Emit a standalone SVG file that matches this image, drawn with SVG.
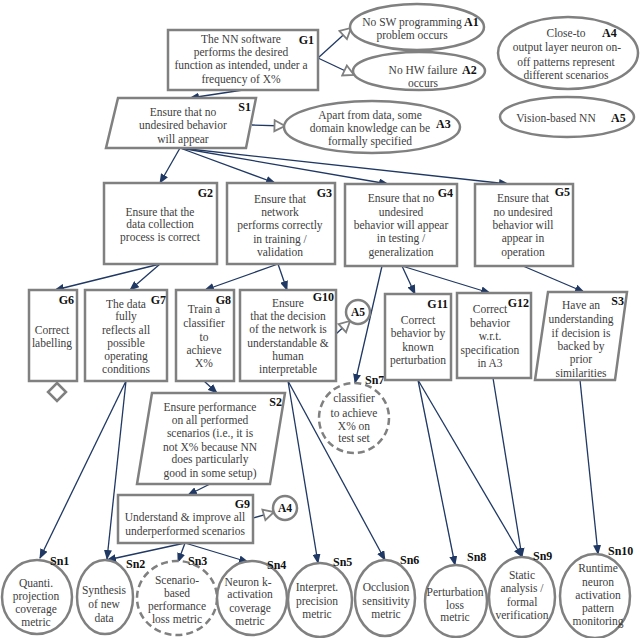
<svg xmlns="http://www.w3.org/2000/svg" width="640" height="638" viewBox="0 0 640 638">
<style>
.bx{fill:#fff;stroke:#808080;stroke-width:2.5}
.t{font-family:"Liberation Serif",serif;font-size:11.5px;fill:#404040;text-anchor:middle}
.lb{font-family:"Liberation Serif",serif;font-size:12px;font-weight:bold;fill:#111}
.lbe{font-family:"Liberation Serif",serif;font-size:12px;font-weight:bold;fill:#111;text-anchor:end}
.lbm{font-family:"Liberation Serif",serif;font-size:11.5px;font-weight:bold;fill:#111;text-anchor:middle}
.c{stroke:#1f3864;stroke-width:1.3;fill:none;marker-end:url(#ah)}
.h{stroke:#1f3864;stroke-width:1.3;fill:none;marker-end:url(#ho)}
.d{stroke-dasharray:7,4}
</style>
<defs>
<marker id="ah" markerWidth="10" markerHeight="8" refX="9" refY="4" orient="auto" markerUnits="userSpaceOnUse"><path d="M0,0 L10,4 L0,8 z" fill="#1f3864"/></marker>
<marker id="ho" markerWidth="14" markerHeight="14" refX="12" refY="7" orient="auto" markerUnits="userSpaceOnUse"><path d="M1.5,1.5 L12,7 L1.5,12.5 z" fill="#fff" stroke="#808080" stroke-width="1.8"/></marker>
</defs>

<g id="connectors">
<line class="c" x1="243" y1="90" x2="190" y2="98"/>
<line class="h" x1="318" y1="58" x2="351" y2="28"/>
<line class="h" x1="318" y1="58" x2="354" y2="75"/>
<line class="h" x1="252" y1="125" x2="285" y2="126"/>
<line class="c" x1="180" y1="148" x2="160" y2="183"/>
<line class="c" x1="180" y1="148" x2="275" y2="183"/>
<line class="c" x1="180" y1="148" x2="388" y2="184"/>
<line class="c" x1="180" y1="148" x2="508" y2="184"/>
<line class="c" x1="160" y1="264" x2="55" y2="290"/>
<line class="c" x1="160" y1="264" x2="130" y2="290"/>
<line class="c" x1="278" y1="264" x2="205" y2="290"/>
<line class="c" x1="278" y1="264" x2="287" y2="290"/>
<line class="c" x1="382" y1="266" x2="355" y2="383"/>
<line class="c" x1="402" y1="266" x2="415" y2="294"/>
<line class="c" x1="402" y1="266" x2="490" y2="293"/>
<line class="c" x1="523" y1="266" x2="584" y2="292"/>
<line class="h" x1="336" y1="334" x2="350" y2="321"/>
<line class="c" x1="204" y1="381" x2="217" y2="393"/>
<line class="c" x1="210" y1="484" x2="188" y2="495"/>
<line class="h" x1="253" y1="518" x2="274" y2="512"/>
<line class="c" x1="126" y1="381" x2="40" y2="558"/>
<line class="c" x1="126" y1="381" x2="107" y2="559"/>
<line class="c" x1="185" y1="543" x2="107" y2="560"/>
<line class="c" x1="185" y1="543" x2="178" y2="562"/>
<line class="c" x1="185" y1="543" x2="248" y2="562"/>
<line class="c" x1="288" y1="381" x2="318" y2="563"/>
<line class="c" x1="288" y1="381" x2="385" y2="560"/>
<line class="c" x1="418" y1="380" x2="455" y2="565"/>
<line class="c" x1="418" y1="380" x2="522" y2="557"/>
<line class="c" x1="493" y1="378" x2="522" y2="557"/>
<line class="c" x1="580" y1="380" x2="598" y2="554"/>
</g>

<g id="G1"><rect class="bx" x="168" y="30" width="150" height="60"/>
<text class="t" x="241" y="43">The NN software</text><text class="t" x="241" y="56">performs the desired</text><text class="t" x="241" y="69">function as intended, under a</text><text class="t" x="241" y="83">frequency of X%</text>
<text class="lbe" x="314" y="44">G1</text></g>

<g id="A1"><ellipse class="bx" cx="417" cy="27" rx="67" ry="23"/>
<text class="t" x="412" y="26">No SW programming</text><text class="t" x="412" y="39">problem occurs</text>
<text class="lb" x="464" y="26">A1</text></g>

<g id="A2"><ellipse class="bx" cx="419" cy="71" rx="66" ry="19"/>
<text class="t" x="423" y="74">No HW failure</text><text class="t" x="423" y="87">occurs</text>
<text class="lb" x="462" y="74">A2</text></g>

<g id="S1"><polygon class="bx" points="118,98 256,98 246,148 106,148"/>
<text class="t" x="183" y="116">Ensure that no</text><text class="t" x="183" y="129">undesired behavior</text><text class="t" x="183" y="143">will appear</text>
<text class="lbe" x="251" y="111">S1</text></g>

<g id="A3"><ellipse class="bx" cx="372" cy="127" rx="88" ry="26"/>
<text class="t" x="370" y="119">Apart from data, some</text><text class="t" x="370" y="132">domain knowledge can be</text><text class="t" x="370" y="145">formally specified</text>
<text class="lb" x="436" y="128">A3</text></g>

<g id="A4"><ellipse class="bx" cx="568" cy="53" rx="70" ry="36"/>
<text class="t" x="566" y="37">Close-to</text><text class="t" x="567" y="51">output layer neuron on-</text><text class="t" x="566" y="66">off patterns represent</text><text class="t" x="566" y="79">different scenarios</text>
<text class="lb" x="602" y="37">A4</text></g>

<g id="A5"><ellipse class="bx" cx="567" cy="117" rx="67" ry="20"/>
<text class="t" x="556" y="122">Vision-based NN</text>
<text class="lb" x="611" y="122">A5</text></g>

<g id="G2"><rect class="bx" x="104" y="183" width="113" height="81"/>
<text class="t" x="160" y="216">Ensure that the</text><text class="t" x="160" y="228">data collection</text><text class="t" x="160" y="241">process is correct</text>
<text class="lbe" x="213" y="197">G2</text></g>

<g id="G3"><rect class="bx" x="227" y="183" width="108" height="81"/>
<text class="t" x="280" y="203">Ensure that</text><text class="t" x="280" y="216">network</text><text class="t" x="280" y="229">performs correctly</text><text class="t" x="280" y="243">in training /</text><text class="t" x="280" y="256">validation</text>
<text class="lbe" x="332" y="197">G3</text></g>

<g id="G4"><rect class="bx" x="345" y="184" width="112" height="82"/>
<text class="t" x="401" y="202">Ensure that no</text><text class="t" x="401" y="216">undesired</text><text class="t" x="401" y="229">behavior will appear</text><text class="t" x="401" y="242">in testing /</text><text class="t" x="401" y="256">generalization</text>
<text class="lbe" x="453" y="197">G4</text></g>

<g id="G5"><rect class="bx" x="475" y="184" width="98" height="82"/>
<text class="t" x="523" y="202">Ensure that</text><text class="t" x="523" y="216">no undesired</text><text class="t" x="523" y="229">behavior will</text><text class="t" x="523" y="242">appear in</text><text class="t" x="523" y="256">operation</text>
<text class="lbe" x="570" y="196">G5</text></g>

<g id="G6"><rect class="bx" x="29" y="290" width="48" height="91"/>
<text class="t" x="52" y="334">Correct</text><text class="t" x="52" y="347">labelling</text>
<text class="lbe" x="74" y="304">G6</text>
<polygon class="bx" points="57,383 66,392 57,401 48,392"/></g>

<g id="G7"><rect class="bx" x="85" y="290" width="82" height="91"/>
<text class="t" x="126" y="308">The data</text><text class="t" x="126" y="320">fully</text><text class="t" x="126" y="334">reflects all</text><text class="t" x="126" y="347">possible</text><text class="t" x="126" y="360">operating</text><text class="t" x="126" y="373">conditions</text>
<text class="lbe" x="166" y="304">G7</text></g>

<g id="G8"><rect class="bx" x="176" y="290" width="58" height="91"/>
<text class="t" x="204" y="313">Train a</text><text class="t" x="204" y="327">classifier</text><text class="t" x="204" y="341">to</text><text class="t" x="204" y="354">achieve</text><text class="t" x="204" y="367">X%</text>
<text class="lbe" x="231" y="304">G8</text></g>

<g id="G10"><rect class="bx" x="240" y="290" width="96" height="91"/>
<text class="t" x="288" y="307">Ensure</text><text class="t" x="288" y="320">that the decision</text><text class="t" x="288" y="333">of the network is</text><text class="t" x="288" y="347">understandable &amp;</text><text class="t" x="288" y="360">human</text><text class="t" x="288" y="373">interpretable</text>
<text class="lbe" x="334" y="301">G10</text></g>

<g id="A5ref"><circle class="bx" cx="358" cy="312" r="12"/><text class="lbm" x="358" y="316">A5</text></g>

<g id="Sn7"><circle class="bx d" cx="354" cy="418" r="35"/>
<text class="t" x="354" y="402">classifier</text><text class="t" x="354" y="417">to achieve</text><text class="t" x="354" y="430">X% on</text><text class="t" x="354" y="442">test set</text>
<text class="lb" x="365" y="384">Sn7</text></g>

<g id="G11"><rect class="bx" x="385" y="294" width="66" height="86"/>
<text class="t" x="418" y="324">Correct</text><text class="t" x="418" y="337">behavior by</text><text class="t" x="418" y="351">known</text><text class="t" x="418" y="364">perturbation</text>
<text class="lbe" x="448" y="308">G11</text></g>

<g id="G12"><rect class="bx" x="457" y="293" width="74" height="85"/>
<text class="t" x="490" y="313">Correct</text><text class="t" x="490" y="327">behavior</text><text class="t" x="490" y="340">w.r.t.</text><text class="t" x="490" y="354">specification</text><text class="t" x="490" y="367">in A3</text>
<text class="lbe" x="529" y="307">G12</text></g>

<g id="S3"><polygon class="bx" points="548,292 627,292 615,380 535,380"/>
<text class="t" x="581" y="309">Have an</text><text class="t" x="581" y="323">understanding</text><text class="t" x="581" y="337">if decision is</text><text class="t" x="581" y="350">backed by</text><text class="t" x="581" y="363">prior</text><text class="t" x="581" y="377">similarities</text>
<text class="lbe" x="624" y="305">S3</text></g>

<g id="S2"><polygon class="bx" points="152,393 285,393 270,484 137,484"/>
<text class="t" x="210" y="411">Ensure performance</text><text class="t" x="210" y="424">on all performed</text><text class="t" x="210" y="437">scenarios (i.e., it is</text><text class="t" x="210" y="451">not X% because NN</text><text class="t" x="210" y="463">does particularly</text><text class="t" x="210" y="477">good in some setup)</text>
<text class="lbe" x="282" y="406">S2</text></g>

<g id="G9"><rect class="bx" x="118" y="495" width="135" height="48"/>
<text class="t" x="185" y="521">Understand &amp; improve all</text><text class="t" x="185" y="535">underperformed scenarios</text>
<text class="lbe" x="250" y="508">G9</text></g>

<g id="A4ref"><circle class="bx" cx="285" cy="508" r="12"/><text class="lbm" x="285" y="512">A4</text></g>

<g id="Sn1"><ellipse class="bx" cx="37" cy="597" rx="35" ry="37"/>
<text class="t" x="36" y="587">Quanti.</text><text class="t" x="36" y="600">projection</text><text class="t" x="36" y="613">coverage</text><text class="t" x="36" y="626">metric</text>
<text class="lb" x="50" y="565">Sn1</text></g>

<g id="Sn2"><ellipse class="bx" cx="105" cy="597" rx="28" ry="37"/>
<text class="t" x="104" y="594">Synthesis</text><text class="t" x="104" y="608">of new</text><text class="t" x="104" y="622">data</text>
<text class="lb" x="126" y="568">Sn2</text></g>

<g id="Sn3"><ellipse class="bx d" cx="177" cy="598" rx="40" ry="37"/>
<text class="t" x="177" y="584">Scenario-</text><text class="t" x="177" y="597">based</text><text class="t" x="177" y="610">performance</text><text class="t" x="177" y="623">loss metric</text>
<text class="lb" x="188" y="565">Sn3</text></g>

<g id="Sn4"><ellipse class="bx" cx="252" cy="598" rx="35" ry="37"/>
<text class="t" x="248" y="586">Neuron k-</text><text class="t" x="250" y="598">activation</text><text class="t" x="250" y="612">coverage</text><text class="t" x="250" y="625">metric</text>
<text class="lb" x="267" y="569">Sn4</text></g>

<g id="Sn5"><ellipse class="bx" cx="320" cy="600" rx="32" ry="37"/>
<text class="t" x="317" y="591">Interpret.</text><text class="t" x="317" y="605">precision</text><text class="t" x="317" y="618">metric</text>
<text class="lb" x="333" y="566">Sn5</text></g>

<g id="Sn6"><ellipse class="bx" cx="385" cy="598" rx="30" ry="38"/>
<text class="t" x="386" y="591">Occlusion</text><text class="t" x="386" y="605">sensitivity</text><text class="t" x="386" y="618">metric</text>
<text class="lb" x="400" y="564">Sn6</text></g>

<g id="Sn8"><ellipse class="bx" cx="456" cy="601" rx="31" ry="36"/>
<text class="t" x="455" y="596">Perturbation</text><text class="t" x="455" y="609">loss</text><text class="t" x="455" y="621">metric</text>
<text class="lb" x="467" y="561">Sn8</text></g>

<g id="Sn9"><ellipse class="bx" cx="522" cy="597" rx="33" ry="40"/>
<text class="t" x="522" y="579">Static</text><text class="t" x="522" y="592">analysis /</text><text class="t" x="522" y="606">formal</text><text class="t" x="522" y="619">verification</text>
<text class="lb" x="533" y="560">Sn9</text></g>

<g id="Sn10"><ellipse class="bx" cx="595" cy="596" rx="35" ry="42"/>
<text class="t" x="598" y="572">Runtime</text><text class="t" x="598" y="586">neuron</text><text class="t" x="598" y="599">activation</text><text class="t" x="598" y="612">pattern</text><text class="t" x="598" y="625">monitoring</text>
<text class="lb" x="608" y="555">Sn10</text></g>
</svg>
